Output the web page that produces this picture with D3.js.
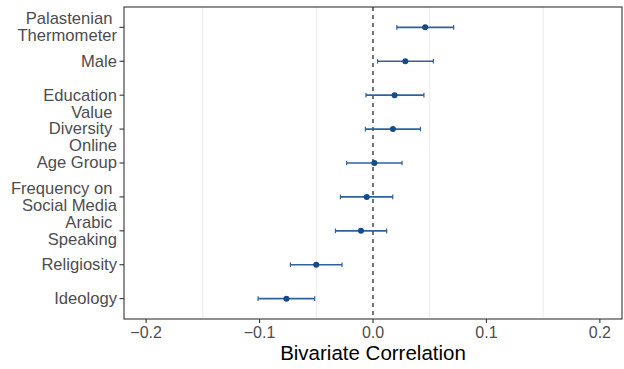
<html>
<head>
<meta charset="utf-8">
<script src="https://d3js.org/d3.v7.min.js"></script>
<style>
    body { margin: 0; background: #fff; }
    text { font-family: "Liberation Sans", Arial, sans-serif; }
</style>
</head>
<body>
<svg id="chart"></svg>
<script>
    // variables top to bottom, label lines, estimate and 95% interval
    var variables = ["Palastenian Thermometer", "Male", "Education", "Value Diversity Online", "Age Group",
        "Frequency on Social Media", "Arabic Speaking", "Religiosity", "Ideology"];
    var labelLines = [["Palastenian ", "Thermometer"], ["Male"], ["Education"], ["Value ", "Diversity ", "Online"],
        ["Age Group"], ["Frequency on ", "Social Media"], ["Arabic ", "Speaking"], ["Religiosity"], ["Ideology"]];
    var estimates = [0.046, 0.0285, 0.019, 0.0176, 0.0012, -0.0055, -0.0106, -0.050, -0.0763];
    var lower = [0.021, 0.004, -0.0062, -0.0067, -0.0232, -0.0287, -0.0331, -0.0728, -0.1013];
    var upper = [0.0711, 0.0532, 0.0449, 0.0418, 0.0256, 0.0174, 0.0121, -0.0273, -0.0514];
    var xTicks = [-0.2, -0.1, 0, 0.1, 0.2];
    var xMinor = [-0.15, -0.05, 0.05, 0.15];

    var data = variables.map(function (v, i) {
        return { name: v, lines: labelLines[i], est: estimates[i], lo: lower[i], hi: upper[i] };
    });

    var width = 624, height = 369;
    var margin = { top: 7, right: 2, bottom: 50, left: 124 };
    var pw = width - margin.left - margin.right,
        ph = height - margin.top - margin.bottom;

    var svg = d3.select("#chart").attr("width", width).attr("height", height);
    var g = svg.append("g").attr("transform", "translate(" + margin.left + "," + margin.top + ")");

    var x = d3.scaleLinear().domain([-0.2195, 0.2195]).range([0, pw]);
    var y = d3.scalePoint().domain(variables).range([0, ph]).padding(0.6);

    // minor grid lines
    g.selectAll(".grid").data(xMinor).enter().append("line")
        .attr("x1", d => x(d)).attr("x2", d => x(d))
        .attr("y1", 0).attr("y2", ph)
        .attr("stroke", "#ebebeb").attr("stroke-width", 1);

    // zero reference
    g.append("line")
        .attr("x1", x(0)).attr("x2", x(0)).attr("y1", 0).attr("y2", ph)
        .attr("stroke", "black").attr("stroke-width", 1.1)
        .attr("stroke-dasharray", "4,4");

    // error bars
    var bars = g.selectAll(".bar").data(data).enter().append("g").attr("class", "bar");
    bars.append("line")
        .attr("x1", d => x(d.lo)).attr("x2", d => x(d.hi))
        .attr("y1", d => y(d.name)).attr("y2", d => y(d.name))
        .attr("stroke", "#2f629c").attr("stroke-width", 1.6);
    bars.append("line")
        .attr("x1", d => x(d.lo)).attr("x2", d => x(d.lo))
        .attr("y1", d => y(d.name) - 2.3).attr("y2", d => y(d.name) + 2.3)
        .attr("stroke", "#2f629c").attr("stroke-width", 1.2);
    bars.append("line")
        .attr("x1", d => x(d.hi)).attr("x2", d => x(d.hi))
        .attr("y1", d => y(d.name) - 2.3).attr("y2", d => y(d.name) + 2.3)
        .attr("stroke", "#2f629c").attr("stroke-width", 1.2);
    bars.append("circle")
        .attr("cx", d => x(d.est)).attr("cy", d => y(d.name)).attr("r", 3)
        .attr("fill", "#134d89");

    // panel border
    g.append("rect").attr("width", pw).attr("height", ph)
        .attr("fill", "none").attr("stroke", "#333333").attr("stroke-width", 1.1);

    // x axis
    var xa = g.append("g").attr("transform", "translate(0," + ph + ")");
    xa.selectAll("line").data(xTicks).enter().append("line")
        .attr("x1", d => x(d)).attr("x2", d => x(d)).attr("y1", 0).attr("y2", 4)
        .attr("stroke", "#333333").attr("stroke-width", 1.1);
    xa.selectAll("text").data(xTicks).enter().append("text")
        .attr("x", d => x(d)).attr("y", 18.7)
        .attr("text-anchor", "middle").attr("font-size", 16).attr("fill", "#4d4d4d")
        .text(d => d3.format(".1f")(d).replace("-", "\u2212"));

    // y axis
    var ya = g.append("g");
    ya.selectAll("line").data(data).enter().append("line")
        .attr("x1", -4.5).attr("x2", 0).attr("y1", d => y(d.name)).attr("y2", d => y(d.name))
        .attr("stroke", "#333333").attr("stroke-width", 1.1);
    var lh = 16.7;
    ya.selectAll("text").data(data).enter().append("text")
        .attr("text-anchor", "end").attr("font-size", 16.6).attr("fill", "#4d4d4d")
        .attr("xml:space", "preserve")
        .each(function (d) {
            var t = d3.select(this);
            var n = d.lines.length;
            d.lines.forEach(function (line, i) {
                t.append("tspan")
                    .attr("x", -7)
                    .attr("y", y(d.name) + (i - (n - 1) / 2) * lh + 5.4)
                    .text(line);
            });
        });

    // axis title
    svg.append("text")
        .attr("x", margin.left + pw / 2).attr("y", height - 9)
        .attr("text-anchor", "middle").attr("font-size", 20.5).attr("fill", "black")
        .text("Bivariate Correlation");
</script>
</body>
</html>
